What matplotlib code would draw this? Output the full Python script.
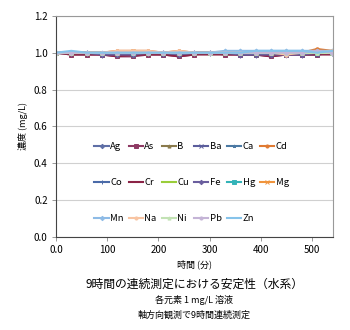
import matplotlib
matplotlib.use("Agg")
import matplotlib.pyplot as plt

plt.rcParams['font.family'] = ['Noto Sans CJK JP', 'DejaVu Sans']

time_min = [0, 30, 60, 90, 120, 150, 180, 210, 240, 270, 300, 330, 360, 390, 420, 450, 480, 510, 540]

elements = ['Ag', 'As', 'B', 'Ba', 'Ca', 'Cd', 'Co', 'Cr', 'Cu', 'Fe', 'Hg', 'Mg',
            'Mn', 'Na', 'Ni', 'Pb', 'Zn']

Ag = [1.00, 1.00, 1.00, 0.99, 0.99, 0.99, 1.00, 1.00, 0.99, 1.00, 1.00, 1.00, 0.99, 0.99, 0.99, 1.00, 0.99, 1.00, 1.00]
As = [1.00, 0.99, 0.99, 0.99, 0.98, 0.98, 0.99, 0.99, 0.98, 0.99, 1.00, 0.99, 0.99, 0.99, 0.98, 0.99, 0.99, 0.99, 1.00]
B  = [1.00, 1.00, 1.00, 1.00, 0.99, 0.99, 1.00, 1.00, 0.99, 1.00, 1.00, 1.00, 1.00, 0.99, 1.00, 1.00, 1.00, 1.00, 1.00]
Ba = [1.00, 1.00, 1.00, 0.99, 0.99, 0.99, 1.00, 0.99, 0.99, 1.00, 1.00, 1.00, 0.99, 0.99, 0.99, 0.99, 0.99, 0.99, 1.00]
Ca = [1.00, 1.00, 1.00, 1.00, 1.00, 1.00, 1.00, 1.00, 1.00, 1.00, 1.00, 1.00, 1.00, 1.00, 1.00, 1.00, 1.00, 1.00, 1.00]
Cd = [1.00, 1.00, 1.00, 1.00, 1.01, 1.01, 1.01, 1.00, 1.01, 1.00, 1.00, 1.00, 1.00, 1.00, 1.00, 1.00, 1.00, 1.02, 1.01]
Co = [1.00, 1.00, 1.00, 1.00, 0.99, 0.99, 1.00, 1.00, 0.99, 1.00, 1.00, 1.00, 0.99, 0.99, 0.99, 1.00, 1.00, 1.00, 1.00]
Cr = [1.00, 0.99, 0.99, 0.99, 0.98, 0.99, 0.99, 0.99, 0.98, 0.99, 0.99, 0.99, 0.99, 0.99, 0.98, 0.99, 0.99, 0.99, 0.99]
Cu = [1.00, 1.00, 1.00, 1.00, 1.00, 1.00, 1.00, 1.00, 1.00, 1.00, 1.00, 1.00, 1.00, 1.00, 1.00, 1.01, 1.00, 1.00, 1.01]
Fe = [1.00, 1.00, 1.00, 0.99, 0.99, 0.99, 1.00, 1.00, 0.99, 1.00, 1.00, 1.00, 0.99, 0.99, 0.99, 0.99, 0.99, 1.00, 1.00]
Hg = [1.00, 1.00, 1.00, 1.00, 1.00, 1.00, 1.00, 1.00, 1.00, 1.00, 1.00, 1.00, 1.00, 1.00, 1.00, 1.00, 1.00, 1.00, 1.00]
Mg = [1.00, 1.00, 1.00, 1.00, 1.00, 1.01, 1.00, 1.00, 1.00, 1.00, 1.00, 1.00, 1.00, 1.00, 1.00, 1.00, 1.00, 1.01, 1.00]
Mn = [1.00, 1.00, 1.00, 1.00, 1.00, 1.00, 1.00, 1.00, 1.00, 1.00, 1.00, 1.01, 1.01, 1.01, 1.01, 1.01, 1.01, 1.01, 1.01]
Na = [1.00, 1.00, 1.00, 1.00, 1.01, 1.01, 1.01, 1.00, 1.01, 1.00, 1.00, 1.00, 1.00, 1.00, 1.00, 0.99, 1.00, 1.00, 1.01]
Ni = [1.00, 1.00, 1.00, 1.00, 1.00, 1.00, 1.00, 1.00, 1.00, 1.00, 1.00, 1.00, 1.00, 1.00, 1.00, 1.00, 1.00, 1.00, 1.00]
Pb = [1.00, 1.00, 1.00, 1.00, 1.00, 1.00, 1.00, 1.00, 1.00, 1.00, 1.00, 1.00, 1.00, 1.00, 1.00, 1.00, 1.00, 1.01, 1.00]
Zn = [1.00, 1.01, 1.00, 1.00, 1.00, 1.00, 1.00, 1.00, 1.00, 1.00, 1.00, 1.00, 1.00, 1.01, 1.01, 1.01, 1.01, 1.00, 1.01]

series = [Ag, As, B, Ba, Ca, Cd, Co, Cr, Cu, Fe, Hg, Mg, Mn, Na, Ni, Pb, Zn]

colors = ['#5f6fa6', '#8e3a63', '#8a7a4c', '#5b5d9c', '#4b79a3', '#e07a32',
          '#4a6aa8', '#8b2346', '#9acd3a', '#6a5e9e', '#33b3b8', '#f0943c',
          '#8ebbe6', '#f8c4a2', '#c2e2b4', '#c4b4d6', '#86c3ea']
markers = ['D', 's', '^', 'x', '*', 'o', '+', '', '', 'D', 's', 'x',
           'D', 'o', '^', 'o', '']

y_ticks = [0.0, 0.2, 0.4, 0.6, 0.8, 1.0, 1.2]
x_ticks = [0, 100, 200, 300, 400, 500]
x_tick_labels = ['0.0', '100', '200', '300', '400', '500']

fig = plt.figure(figsize=(3.5, 3.3), dpi=100)
ax = fig.add_axes([0.16, 0.282, 0.791, 0.67])

handles = []
for name, vals, c, m in zip(elements, series, colors, markers):
    h, = ax.plot(time_min, vals, color=c, lw=1.5, marker=m, markersize=2.5,
                 markeredgewidth=0.7, label=name)
    handles.append(h)

ax.set_xlim(0, 541)
ax.set_ylim(0, 1.2)
ax.set_yticks(y_ticks)
ax.set_yticklabels([f'{v:.1f}' for v in y_ticks])
ax.set_xticks(x_ticks)
ax.set_xticklabels(x_tick_labels)
ax.tick_params(labelsize=7, length=3, width=0.6, color='#888888', pad=3)
ax.grid(axis='y', color='#d0d0d0', lw=0.8)
ax.set_axisbelow(True)
for s in ['top', 'right']:
    ax.spines[s].set_color('#999999')
for s in ['left', 'bottom']:
    ax.spines[s].set_color('#444444')
for s in ax.spines.values():
    s.set_linewidth(0.8)

ax.set_ylabel('濃度 (mg/L)', fontsize=6.5, labelpad=4)
ax.set_xlabel('時間 (分)', fontsize=6.5, labelpad=3)

# reorder so legend fills row-wise in 6 columns
order = [0, 6, 12, 1, 7, 13, 2, 8, 14, 3, 9, 15, 4, 10, 16, 5, 11]
leg = ax.legend([handles[i] for i in order], [elements[i] for i in order],
                ncol=6, loc='center', bbox_to_anchor=(0.49, 0.245),
                frameon=False, fontsize=6.8, handlelength=1.5, handletextpad=0.15,
                columnspacing=0.55, labelspacing=2.85, markerscale=0.9)

fig.text(0.555, 0.128, '9時間の連続測定における安定性（水系）', ha='center', fontsize=8.5)
fig.text(0.555, 0.082, '各元素 1 mg/L 溶液', ha='center', fontsize=6.5)
fig.text(0.555, 0.036, '軸方向観測で9時間連続測定', ha='center', fontsize=6.5)

fig.savefig('out.png', dpi=100)
